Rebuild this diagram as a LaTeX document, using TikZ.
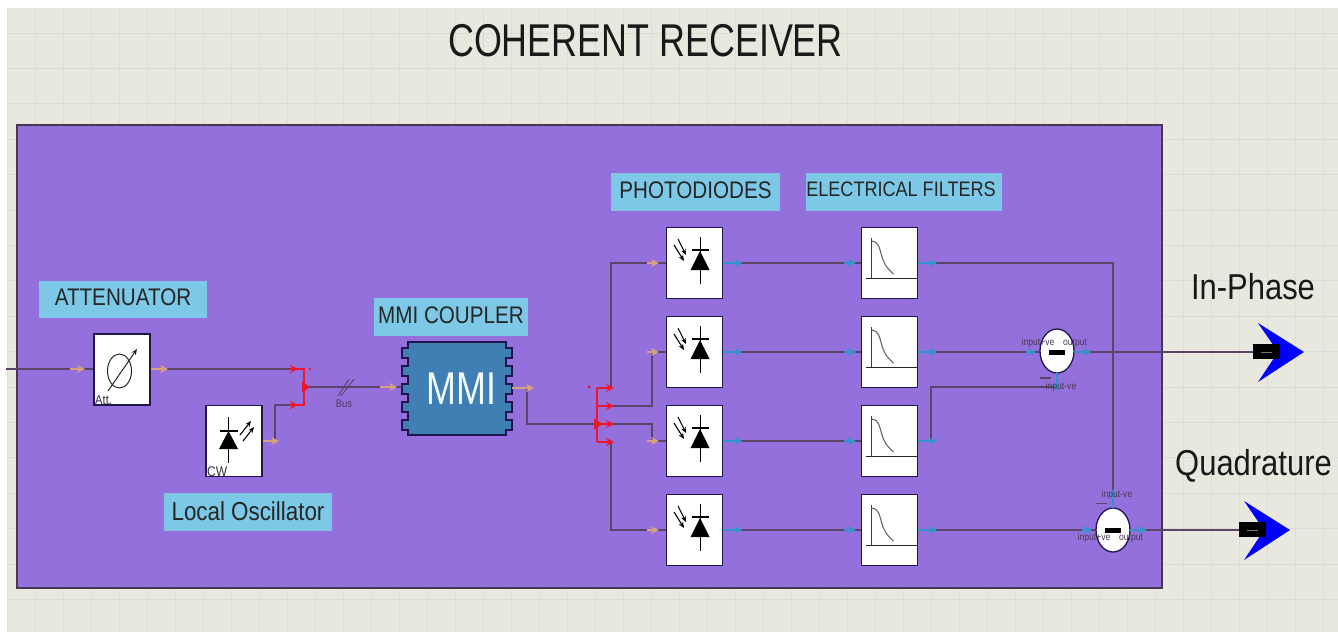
\documentclass[tikz,border=0pt]{standalone}
\usepackage{fontspec}
\setmainfont[FakeStretch=0.86]{Liberation Sans}
\newfontfamily\tallfont[FakeStretch=0.78]{Liberation Sans}
\usetikzlibrary{arrows.meta,shapes.geometric,calc}
\definecolor{bgc}{HTML}{E8E8DF}
\definecolor{gridc}{HTML}{DDDDD1}
\definecolor{purp}{HTML}{9370DB}
\definecolor{lab}{HTML}{7CC8E6}
\definecolor{wire}{HTML}{5A4468}
\definecolor{navy2}{HTML}{1F1650}
\definecolor{tan2}{HTML}{D9A27E}
\definecolor{port}{HTML}{2F95CF}
\definecolor{redc}{HTML}{F0142D}
\definecolor{mmic}{HTML}{3F7FB3}
\tikzset{
  x=1pt,y=-1pt,
  compbox/.style={draw=navy2,fill=white,line width=1.3pt,minimum width=56,minimum height=71,inner sep=0},
  tag/.style={fill=lab,inner sep=0,minimum height=37,text=black!85},
  wireline/.style={draw=wire,line width=1.2pt},
  tanport/.style={draw=tan2,line width=1.7pt,-{Stealth[length=8pt,width=8pt]}},
  blueport/.style={draw=port,line width=1.7pt,-{Stealth[length=8pt,width=8pt]}},
  redline/.style={draw=redc,line width=1.4pt},
  redarrow/.style={draw=redc,line width=1.4pt,-{Stealth[length=8pt,width=8pt]}},
  small/.style={font=\fontsize{10}{11}\selectfont,text=wire!85!black,inner sep=0},
  subtr/.style={ellipse,draw=navy2,fill=white,line width=1.3pt,minimum width=34,minimum height=44,inner sep=0},
  pdicon/.pic={
    \draw[black,line width=1pt] (5.5,-26)--(5.5,21);
    \draw[black,line width=1.1pt] (-3,-13)--(14,-13);
    \fill[black] (5.5,-12)--(15,7)--(-4,7)--cycle;
    \draw[black,line width=1.1pt,-{Stealth[length=6pt,width=5pt]}] (-16.5,-24)--(-8.5,-8);
    \draw[black,line width=1.1pt,-{Stealth[length=6pt,width=5pt]}] (-20.5,-18)--(-10.5,-2);
  },
  filticon/.pic={
    \draw[black!75,line width=1pt] (-18,-25)--(-18,15);
    \draw[black!85,line width=1pt] (-24,15)--(27,15);
    \draw[black!60,line width=1.1pt] (-18,-22)..controls (-10,-21) and (-10,-14)..(-8,-8)..controls (-6,0) and (-3,5)..(4,11);
  },
  outarrow/.pic={
    \fill[blue] (51,0)--(5,-29)--(25,0)--(5,30)--cycle;
    \fill[black] (0,-8) rectangle (27,7);
    \draw[black!55!white,line width=.8pt] (8,0)--(19,0);
  }
}
\begin{document}
\begin{tikzpicture}
\useasboundingbox (0,0) rectangle (1338,633);
\fill[white] (0,0) rectangle (1338,633);
\fill[bgc] (7,8) rectangle (1338,632);
\foreach \k in {0,...,47} \draw[gridc,line width=.8pt] ({7+28*\k},8)--({7+28*\k},632);
\foreach \k in {0,...,16} \draw[gridc,line width=.8pt] (7,{33+35.4*\k})--(1338,{33+35.4*\k});
\fill[purp] (17,125) rectangle (1162,588);
\draw[wire!80!black,line width=1.2pt] (17,125) rectangle (1162,588);

\node[font=\tallfont\fontsize{46}{50}\selectfont,text=black!90,inner sep=0] (title) at (645.5,41) {COHERENT RECEIVER};
\node[tag,minimum width=168,font=\fontsize{24}{26}\selectfont] (tatt) at (123,299.5) {\raisebox{4pt}{ATTENUATOR}};
\node[tag,minimum width=168,minimum height=38,font=\fontsize{26}{28}\selectfont] (tlo) at (248,512) {\raisebox{1pt}{Local Oscillator}};
\node[tag,minimum width=154,minimum height=38,font=\fontsize{24}{26}\selectfont] (tmmi) at (451,317) {\raisebox{4pt}{MMI COUPLER}};
\node[tag,minimum width=169,minimum height=38,font=\fontsize{24}{26}\selectfont] (tpd) at (695.5,192) {\raisebox{4pt}{PHOTODIODES}};
\node[tag,minimum width=196,minimum height=38,font=\fontsize{21}{24}\selectfont] (tef) at (904,192) {\hspace*{-6pt}\raisebox{5pt}{ELECTRICAL FILTERS}};
\node[font=\fontsize{36}{40}\selectfont,text=black!90,inner sep=0] (inph) at (1253,287) {In-Phase};
\node[font=\fontsize{36}{40}\selectfont,text=black!90,inner sep=0] (quad) at (1253.5,466) {Quadrature};

% components
\node[compbox] (att) at (122,369.5) {};
\node[compbox] (cw) at (234,441) {};
\foreach \n/\y in {1/263,2/352,3/441,4/530} {
  \node[compbox] (pd\n) at (694.5,\y) {};
  \node[compbox] (ef\n) at (889.5,\y) {};
  \path (pd\n.center) pic {pdicon};
  \path (ef\n.center) pic {filticon};
}
\draw[black!85,line width=1pt] (119.5,371) ellipse (12 and 17);
\draw[black!85,line width=1pt,-{Stealth[length=6pt,width=5pt]}] (108,391)--(137,349);
\node[anchor=south west,inner sep=0,font=\fontsize{13}{14}\selectfont,text=black!80] (atttxt) at (95,405) {Att.};
\draw[black,line width=1pt] (228.5,417)--(228.5,463);
\draw[black,line width=1.1pt] (220,431)--(238,431);
\fill[black] (228.5,431)--(238,449)--(219,449)--cycle;
\draw[black,line width=1.1pt,-{Stealth[length=6pt,width=5pt]}] (240,435)--(251,421);
\draw[black,line width=1.1pt,-{Stealth[length=6pt,width=5pt]}] (243,441)--(254,427);
\node[anchor=south west,inner sep=0,font=\fontsize{14}{15}\selectfont,text=black!80] (cwtxt) at (207,477) {CW};

% MMI
\fill[mmic,draw=navy2,line width=1.2pt]
 (408,342)--(506,342)--(506,348)--(512,348)--(512,358)--(506,358)--(506,366)--(512,366)--(512,376)--(506,376)--(506,384)--(512,384)--(512,394)--(506,394)--(506,402)--(512,402)--(512,412)--(506,412)--(506,420)--(512,420)--(512,430)--(506,430)--(506,435)
 --(408,435)--(408,430)--(402,430)--(402,420)--(408,420)--(408,412)--(402,412)--(402,402)--(408,402)--(408,394)--(402,394)--(402,384)--(408,384)--(408,376)--(402,376)--(402,366)--(408,366)--(408,358)--(402,358)--(402,348)--(408,348)--cycle;
\node[minimum width=110,minimum height=93,inner sep=0,text=white!95!cyan,font=\tallfont\fontsize{46}{48}\selectfont] (mmi) at (457,388.5) {\hspace*{9pt}MMI};

% subtractors
\node[subtr] (s1) at (1057,351) {};
\node[subtr] (s2) at (1113,530) {};
\fill[black] (1049,350) rectangle (1065,354.5);
\fill[black] (1105,528) rectangle (1121,532.5);

% coordinates
\coordinate (in) at (6,369);
\coordinate (cj1) at (290,369);
\coordinate (cj2) at (290,405);
\coordinate (cout) at (304,387);
\coordinate (sp) at (597,424);
\coordinate (o1) at (1253,352);
\coordinate (o2) at (1239,530);

% wires
\draw[wireline] (in)--(att.west|-in);
\draw[wireline] (att.east|-in)--(cj1);
\draw[wireline] (cw.east)-|(275,405)--(cj2);
\draw[wireline] (cout)--(mmi.west|-cout);
\draw[wireline] (mmi.east|-0,388)-|(527,424)--(sp);
\draw[wireline] (611,388)|-(pd1.west);
\draw[wireline] (611,406)-|(652,352)--(pd2.west);
\draw[wireline] (611,424)-|(652,441)--(pd3.west);
\draw[wireline] (611,442)|-(pd4.west);
\foreach \n in {1,2,3,4} \draw[wireline] (pd\n.east)--(ef\n.west);
\draw[wireline] (ef1.east)-|(s2.north);
\draw[wireline] (ef2.east)--(s1.west|-ef2.east);
\draw[wireline] (ef3.east)-|(931,387)-|(s1.south);
\draw[wireline] (ef4.east)--(s2.west);
\draw[wireline] (s1.east|-o1)--(o1);
\draw[wireline] (s2.east)--(o2);

% bus mark
\draw[wire,line width=1pt] (338,396)--(349,379);
\draw[wire,line width=1pt] (341,396)--(354,379);
\node[small,font=\fontsize{11}{12}\selectfont] (bus) at (344,404) {Bus};

% tan ports
\draw[tanport] (70,369)--(85,369);
\draw[tanport] (att.east|-in)--(168,369);
\draw[tanport] (cw.east)--(279,441);
\draw[tanport] (380,387)--(397,387);
\draw[tanport] (mmi.east|-0,388)--(534,388);
\foreach \n in {1,2,3,4} \draw[tanport] ([xshift=-19]pd\n.west)--([xshift=-7]pd\n.west);

% blue ports
\foreach \n in {1,2,3,4} {
  \draw[blueport] (pd\n.east)--([xshift=19]pd\n.east);
  \draw[blueport] ([xshift=-17]ef\n.west)--([xshift=-5]ef\n.west);
  \draw[blueport] (ef\n.east)--([xshift=19]ef\n.east);
}
\draw[blueport] (1026,352)--(1036,352);
\draw[blueport] (1074,352)--(1091,352);
\draw[blueport] (1082,530)--(1092,530);
\draw[blueport] (1130,530)--(1147,530);
\draw[blueport] (1057,373)--(1057,391);
\draw[blueport] (1113,508)--(1113,489);

% red combiner
\draw[redline] (cj1)-|(cout);
\draw[redline] (cj2)-|(cout);
\draw[redarrow] (cj1)--(298,369);
\draw[redarrow] (cj2)--(298,405);
\draw[redline] (304,369)--(304,405);
\fill[redc] (310,387)--(302,381.5)--(302,392.5)--cycle;
\fill[redc] (310,369) circle (1.3);

% red splitter
\draw[redline] (597,388)--(597,442);
\foreach \y in {388,406,424,442} \draw[redarrow] (597,\y)--(614,\y);
\fill[redc] (603,424)--(594,418.5)--(594,429.5)--cycle;
\fill[redc] (589,387) circle (1.6);

% outputs
\path (o1) pic {outarrow};
\path (o2) pic {outarrow};

% small labels
\node[small] (s1a) at (1038,343) {input+ve};
\node[small] (s1b) at (1075,343) {output};
\node[small] (s1c) at (1061,387) {input-ve};
\draw[wire,line width=1.2pt] (1040,378)--(1051,378);
\node[small] (s2a) at (1094,538) {input+ve};
\node[small] (s2b) at (1131,538) {output};
\node[small] (s2c) at (1117,495) {input-ve};
\draw[wire,line width=1.2pt] (1096,503.5)--(1107,503.5);
\end{tikzpicture}
\end{document}
